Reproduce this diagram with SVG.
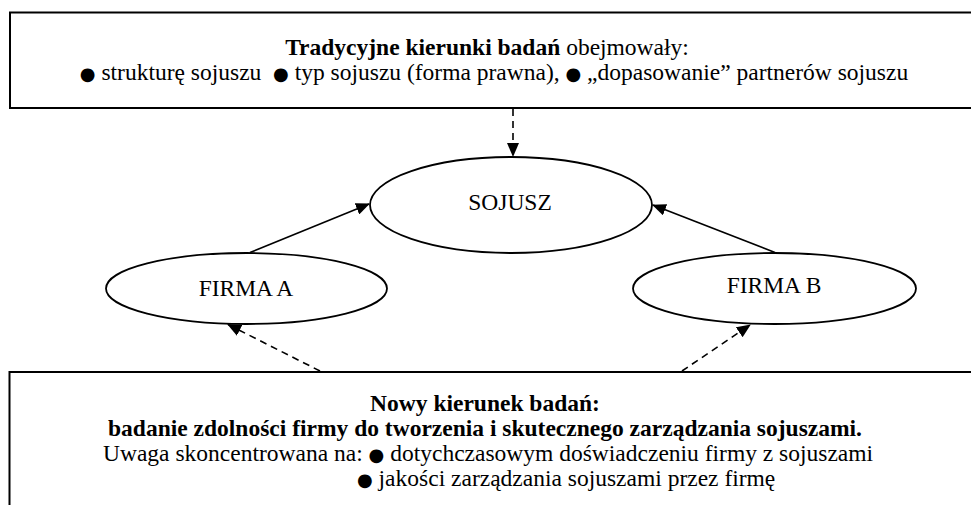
<svg xmlns="http://www.w3.org/2000/svg" width="971" height="505" viewBox="0 0 971 505">
<style>
.box{fill:#fff;stroke:#000;stroke-width:2}
.ell{fill:#fff;stroke:#000;stroke-width:1.8}
.t{font-family:"Liberation Serif","Times New Roman",serif;font-size:23.5px;fill:#000}
.b{font-weight:bold}
.bl{font-family:"DejaVu Sans",sans-serif;font-size:18px}
.c{stroke:#000;stroke-width:1.6;fill:none}
.d{stroke-dasharray:7,5}
</style>
<defs>
<marker id="ah" markerUnits="userSpaceOnUse" markerWidth="14" markerHeight="12" refX="13" refY="6" orient="auto">
<path d="M0,0 L14,6 L0,12 z" fill="#000"/>
</marker>
</defs>
<g id="top-box">
<rect class="box" x="10" y="12.5" width="975" height="95.5"/>
<text class="t" x="487" y="55" text-anchor="middle"><tspan class="b">Tradycyjne kierunki badań</tspan> obejmowały:</text>
<text class="t" x="494" y="80" text-anchor="middle" xml:space="preserve"><tspan class="bl">●</tspan> strukturę sojuszu  <tspan class="bl">●</tspan> typ sojuszu (forma prawna), <tspan class="bl">●</tspan> „dopasowanie” partnerów sojuszu</text>
</g>
<g id="sojusz">
<ellipse class="ell" cx="511" cy="205" rx="141" ry="48"/>
<text class="t" x="510" y="210" text-anchor="middle">SOJUSZ</text>
</g>
<g id="firma-a">
<ellipse class="ell" cx="246.5" cy="288.5" rx="140.5" ry="35.5"/>
<text class="t" x="246" y="296" text-anchor="middle">FIRMA A</text>
</g>
<g id="firma-b">
<ellipse class="ell" cx="774.5" cy="288.5" rx="141.5" ry="35.5"/>
<text class="t" x="774" y="293" text-anchor="middle">FIRMA B</text>
</g>
<g id="bottom-box">
<rect class="box" x="9.5" y="372" width="975" height="150"/>
<text class="t b" x="485" y="411" text-anchor="middle">Nowy kierunek badań:</text>
<text class="t b" x="485" y="436" text-anchor="middle">badanie zdolności firmy do tworzenia i skutecznego zarządzania sojuszami.</text>
<text class="t" x="103" y="461">Uwaga skoncentrowana na: <tspan class="bl">●</tspan> dotychczasowym doświadczeniu firmy z sojuszami</text>
<text class="t" x="357" y="486"><tspan class="bl">●</tspan> jakości zarządzania sojuszami przez firmę</text>
</g>
<g id="connectors">
<line class="c d" x1="513" y1="109" x2="513" y2="156" marker-end="url(#ah)"/>
<line class="c" x1="250" y1="252.5" x2="369" y2="204" marker-end="url(#ah)"/>
<line class="c" x1="775" y1="252.5" x2="653" y2="205" marker-end="url(#ah)"/>
<line class="c d" x1="320" y1="371" x2="228" y2="324.5" marker-end="url(#ah)"/>
<line class="c d" x1="682" y1="371" x2="750" y2="325" marker-end="url(#ah)"/>
</g>
</svg>
